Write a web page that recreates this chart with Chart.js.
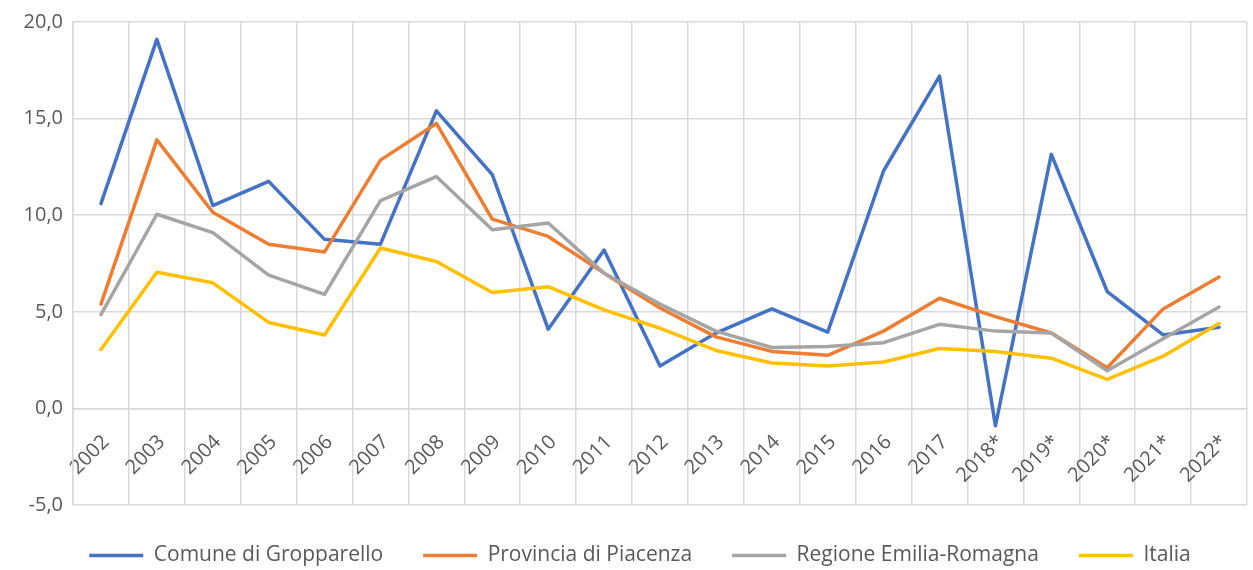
<!DOCTYPE html>
<html>
<head>
<meta charset="utf-8">
<script src="https://cdn.jsdelivr.net/npm/chart.js@4"></script>
<style>
  html, body { margin: 0; padding: 0; background: #fff; overflow: hidden; }
  #wrap { width: 1258px; height: 570px; }
</style>
</head>
<body>
<div id="wrap"><canvas id="myChart"></canvas></div>
<script>
const years = ['2002', '2003', '2004', '2005', '2006', '2007', '2008', '2009', '2010', '2011', '2012',
  '2013', '2014', '2015', '2016', '2017', '2018*', '2019*', '2020*', '2021*', '2022*'];

const comune = [10.6, 19.1, 10.5, 11.75, 8.75, 8.5, 15.4, 12.1, 4.1, 8.2, 2.2,
  3.9, 5.15, 3.95, 12.3, 17.2, -0.9, 13.15, 6.05, 3.8, 4.2];
const provincia = [5.4, 13.9, 10.15, 8.5, 8.1, 12.85, 14.75, 9.8, 8.9, 7.0, 5.2,
  3.7, 2.95, 2.75, 4.0, 5.7, 4.75, 3.9, 2.1, 5.15, 6.8];
const regione = [4.85, 10.05, 9.1, 6.9, 5.9, 10.75, 12.0, 9.25, 9.6, 7.0, 5.4,
  4.0, 3.15, 3.2, 3.4, 4.35, 4.0, 3.9, 1.95, 3.6, 5.25];
const italia = [3.05, 7.05, 6.5, 4.45, 3.8, 8.3, 7.6, 6.0, 6.3, 5.1, 4.15,
  3.0, 2.35, 2.2, 2.4, 3.1, 2.95, 2.6, 1.5, 2.7, 4.4];

const yMin = -5, yMax = 20, yStep = 5;

const textColor = '#595959';
const gridColor = '#d9d9d9';

const line = (label, data, color, order) => ({
  label: label,
  data: data,
  borderColor: color,
  backgroundColor: color,
  borderWidth: 3.5,
  pointRadius: 0,
  pointHoverRadius: 0,
  tension: 0,
  borderCapStyle: 'round',
  borderJoinStyle: 'round',
  order: order,
});

// nudge the legend a little to the right, like the original
const legendShift = {
  id: 'legendShift',
  afterLayout(chart) {
    chart.legend.left += 11;
    chart.legend.right += 11;
  }
};

const ctx = document.getElementById('myChart').getContext('2d');
const chart = new Chart(ctx, {
  type: 'line',
  data: {
    labels: years,
    datasets: [
      line('Comune di Gropparello', comune, '#4472C4', 4),
      line('Provincia di Piacenza', provincia, '#ED7D31', 3),
      line('Regione Emilia-Romagna', regione, '#A5A5A5', 2),
      line('Italia', italia, '#FFC000', 1),
    ]
  },
  plugins: [legendShift],
  options: {
    responsive: true,
    maintainAspectRatio: false,
    animation: false,
    layout: { padding: { top: 10, right: 0, left: 0, bottom: -6 } },
    plugins: {
      tooltip: { enabled: false },
      legend: {
        position: 'bottom',
        labels: {
          usePointStyle: true,
          pointStyle: 'line',
          pointStyleWidth: 54,
          padding: 40,
          color: textColor,
          font: { family: 'Open Sans', size: 21 },
          sort: (a, b) => a.datasetIndex - b.datasetIndex,
        }
      }
    },
    scales: {
      x: {
        position: { y: 0 },
        offset: true,
        grid: { color: gridColor, lineWidth: 1.5, offset: true, drawTicks: false },
        border: { color: gridColor, width: 1.5 },
        ticks: {
          color: textColor,
          font: { family: 'Open Sans', size: 20 },
          minRotation: 45,
          maxRotation: 45,
          padding: 22,
          labelOffset: 5,
          autoSkip: false,
        }
      },
      y: {
        min: yMin,
        max: yMax,
        grid: { color: gridColor, lineWidth: 1.5, drawTicks: false },
        border: { color: gridColor, width: 1.5 },
        afterFit: (scale) => { scale.width = 73; },
        ticks: {
          stepSize: yStep,
          color: textColor,
          padding: 10,
          font: { family: 'Open Sans', size: 20 },
          callback: (v) => v.toFixed(1).replace('.', ','),
        }
      }
    }
  }
});
</script>
</body>
</html>
